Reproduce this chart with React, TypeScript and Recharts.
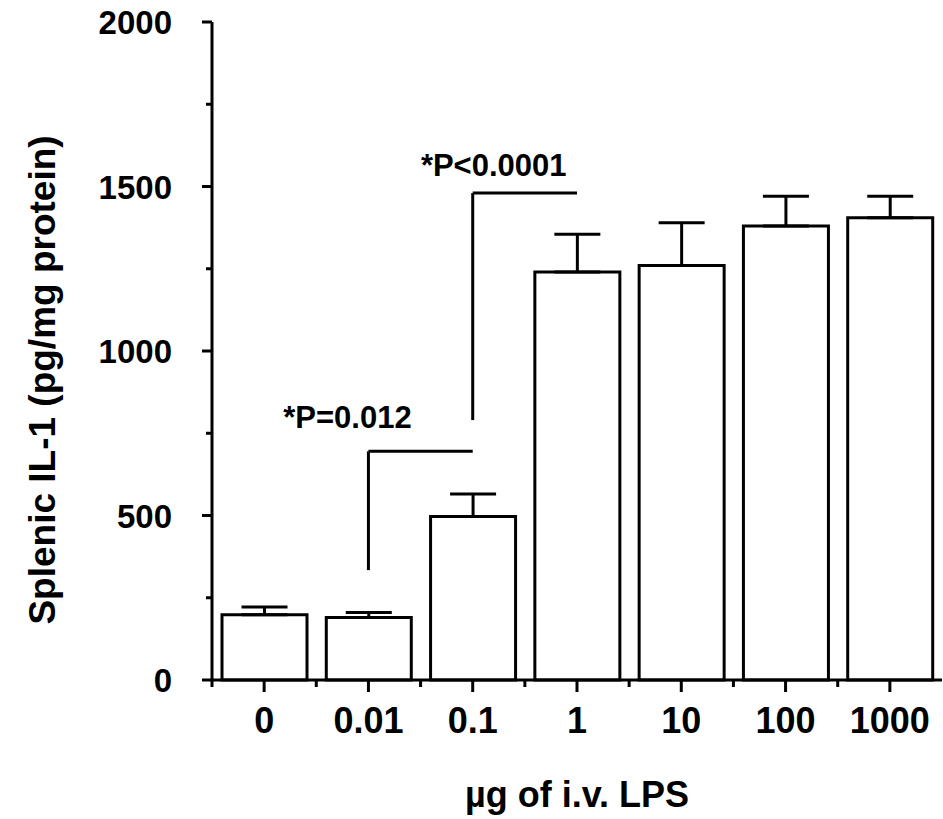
import { BarChart, Bar, XAxis, YAxis, ErrorBar, ReferenceLine, ReferenceDot, Label } from 'recharts'

const doses = ['0', '0.01', '0.1', '1', '10', '100', '1000']
const il1Means = [198, 190, 497, 1240, 1260, 1380, 1405]
const il1Sem = [24, 15, 68, 115, 130, 90, 65]
const yTicks = [0, 250, 500, 750, 1000, 1250, 1500, 1750, 2000]

// significance brackets: vertical from low to high at `from`, then across to `to`
const brackets = [
  { from: '0.01', to: '0.1', low: 334, high: 695, text: '*P=0.012', textY: 766, dx: -21 },
  { from: '0.1', to: '1', low: 790, high: 1480, text: '*P<0.0001', textY: 1532, dx: 21 },
]

const data = doses.map((d, i) => ({ dose: d, il1: il1Means[i], err: [0, il1Sem[i]] }))

const W = 943
const H = 819
const Y_W = 212
const R = 1
const HALF_BAND = (W - Y_W - R) / doses.length / 2
const FONT = '"Liberation Sans", Arial, Helvetica, sans-serif'

const YTick = ({ x, y, payload }: any) => {
  const major = payload.value % 500 === 0
  return (
    <g>
      <line x1={x - (major ? 10 : 6)} x2={x} y1={y} y2={y} stroke="#000" strokeWidth={3} />
      {major && (
        <text x={x - 40} y={y} dy={12} textAnchor="end" fontSize={33} fontWeight="bold" fill="#000" fontFamily={FONT}>
          {payload.value}
        </text>
      )}
    </g>
  )
}

const XTick = ({ x, y, payload }: any) => (
  <g>
    <line x1={x} x2={x} y1={y} y2={y + 12} stroke="#000" strokeWidth={3} />
    <line x1={x - HALF_BAND} x2={x - HALF_BAND} y1={y} y2={y + 7} stroke="#000" strokeWidth={3} />
    <text x={x} y={y + 53} textAnchor="middle" fontSize={36} fontWeight="bold" fill="#000" fontFamily={FONT}>
      {payload.value}
    </text>
  </g>
)

export default function App() {
  return (
    <div style={{ position: 'absolute', left: 0, top: 0, background: '#fff', fontFamily: FONT }}>
      <BarChart width={W} height={H} data={data} margin={{ top: 22, right: R, left: 0, bottom: 0 }}>
        <XAxis
          dataKey="dose"
          height={139}
          tickSize={0}
          tickMargin={0}
          tick={<XTick />}
          axisLine={{ stroke: '#000', strokeWidth: 3 }}
          interval={0}
        >
          <Label
            value="µg of i.v. LPS"
            position="insideBottom"
            offset={12}
            style={{ fontSize: 36, fontWeight: 'bold', fill: '#000', fontFamily: FONT }}
          />
        </XAxis>
        <YAxis
          width={Y_W}
          domain={[0, 2000]}
          ticks={yTicks}
          interval={0}
          tickSize={0}
          tickMargin={0}
          tick={<YTick />}
          axisLine={{ stroke: '#000', strokeWidth: 3 }}
        >
          <Label
            content={() => (
              <text
                x={55}
                y={380}
                transform="rotate(-90, 55, 380)"
                textAnchor="middle"
                fontSize={37}
                fontWeight="bold"
                fill="#000"
                fontFamily={FONT}
              >
                Splenic IL-1  (pg/mg protein)
              </text>
            )}
          />
        </YAxis>
        <Bar dataKey="il1" fill="#fff" stroke="#000" strokeWidth={3} barSize={85} isAnimationActive={false}>
          <ErrorBar dataKey="err" direction="y" width={23} stroke="#000" strokeWidth={3} isAnimationActive={false} />
        </Bar>
        {brackets.map((b) => (
          <ReferenceLine
            key={b.text + 'v'}
            segment={[{ x: b.from, y: b.low }, { x: b.from, y: b.high }]}
            stroke="#000"
            strokeWidth={3}
            ifOverflow="visible"
          />
        ))}
        {brackets.map((b) => (
          <ReferenceLine
            key={b.text + 'h'}
            segment={[{ x: b.from, y: b.high }, { x: b.to, y: b.high }]}
            stroke="#000"
            strokeWidth={3}
            ifOverflow="visible"
          />
        ))}
        {brackets.map((b) => (
          <ReferenceDot
            key={b.text}
            x={b.from}
            y={b.textY}
            r={0}
            ifOverflow="visible"
            shape={(p: any) => (
              <text x={p.cx + b.dx} y={p.cy} textAnchor="middle" fontSize={31} fontWeight="bold" fill="#000" fontFamily={FONT}>
                {b.text}
              </text>
            )}
          />
        ))}
      </BarChart>
    </div>
  )
}
